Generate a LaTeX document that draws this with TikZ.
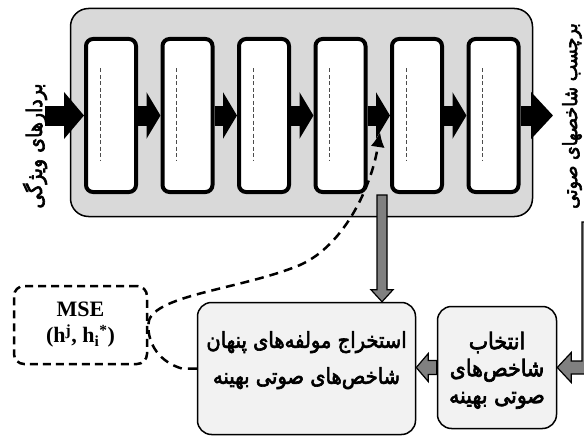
\documentclass[tikz,border=0pt]{standalone}
\usepackage{fontspec}
\setmainfont{Liberation Serif}
\newfontfamily\farsi[Script=Arabic, FakeBold=3]{DejaVu Sans}
\TeXXeTstate=1
\usepackage{tikz}
\usetikzlibrary{arrows.meta,calc,positioning}
\definecolor{panelgray}{RGB}{217,217,217}
\definecolor{boxgray}{RGB}{242,242,242}
\definecolor{arrowgray}{RGB}{128,128,128}
\newcommand{\fa}[1]{\scalebox{1}[1.12]{\beginR #1\endR}}
\tikzstyle{layer} = [draw=black, line width=4pt, fill=white, rounded corners=7pt, minimum width=50pt, minimum height=153pt]
\tikzstyle{blockarrow} = [line width=20pt, -{Triangle[length=14pt,width=46pt]}]
\tikzstyle{grayarrow} = [draw=black, line width=1.2pt, fill=arrowgray, line join=miter]
\tikzstyle{stagebox} = [draw=black, line width=1.5pt, fill=boxgray, rounded corners=14pt, align=center]
\tikzstyle{sidelabel} = [rotate=90, font=\farsi\fontsize{19}{20}\selectfont]

\begin{document}
\begin{tikzpicture}[x=1pt,y=-1pt]
\clip (0,0) rectangle (584,436);
% Panel with the six layers
\node[draw=black, line width=1.5pt, fill=panelgray, rounded corners=18pt, minimum width=462pt, minimum height=208pt] (net) at (301.5,112.5) {};
\foreach \i in {1,...,6} {
    \node[layer] (l\i) at ({111+76.5*(\i-1)},115.5) {};
    \draw[line width=0.6pt, dash pattern=on 4pt off 2.5pt, black!70] ($(l\i.center)+(-11,-47)$) -- ($(l\i.center)+(-11,45)$);
}

% Input and output of the network
\coordinate (in) at (45,115.5);
\coordinate (out) at (553,115.5);
\draw[blockarrow, -{Triangle[length=20pt,width=46pt]}] (in) -- (l1.west);
\foreach \i/\j in {1/2,2/3,3/4,4/5,5/6}
    \draw[blockarrow] (l\i.east) -- (l\j.west);
\draw[blockarrow, -{Triangle[length=22pt,width=46pt]}] (l6.east) -- (out);
\node[sidelabel] (inlabel) at (35,146) {\fa{بردارهای ویژگی}};
\node[sidelabel, font=\farsi\fontsize{17.5}{18}\selectfont] (outlabel) at (572,116) {\fa{برچسب شاخصهای صوتی}};

% Lower boxes
\node[stagebox, minimum width=218pt, minimum height=132pt, text depth=22pt, font=\farsi\fontsize{19.5}{36}\selectfont] (extract) at (306.5,368.5)
    {\fa{استخراج مولفه‌های پنهان}\\\fa{شاخص‌های صوتی بهینه}};
\node[stagebox, minimum width=119pt, minimum height=122pt, text depth=0pt, font=\farsi\fontsize{20.5}{27}\selectfont] (select) at (497,367.5)
    {\fa{انتخاب}\\\fa{شاخص‌های}\\\fa{صوتی بهینه}};
\node[draw=black, line width=2.5pt, dash pattern=on 8pt off 5pt, rounded corners=10pt, minimum width=133pt, minimum height=78pt, align=center, font=\bfseries\fontsize{22}{26}\selectfont] (mse) at (80.5,325)
    {MSE\\(h\textsuperscript{j}, h\textsubscript{i}\textsuperscript{*})};

% Gray arrows
\coordinate (tap) at (382,195);
\coordinate (tapend) at (tap |- extract.north);
\draw[grayarrow] ($(tap)+(-5,0)$) -- ($(tapend)+(-5,-12)$) -- ($(tapend)+(-11,-12)$) -- (tapend)
    -- ($(tapend)+(11,-12)$) -- ($(tapend)+(5,-12)$) -- ($(tap)+(5,0)$) -- cycle;
\coordinate (selend) at (extract.east |- select.west);
\draw[grayarrow] ($(select.west)+(0,-7)$) -- ($(selend)+(12,-7)$) -- ($(selend)+(12,-14)$) -- (selend)
    -- ($(selend)+(12,14)$) -- ($(selend)+(12,7)$) -- ($(select.west)+(0,7)$) -- cycle;
\coordinate (rtap) at (582,222);
\draw[grayarrow] (rtap) -- ($(rtap |- select.east)+(0,-6.5)$) -- ($(select.east)+(14,-6.5)$) -- ($(select.east)+(14,-15)$) -- (select.east)
    -- ($(select.east)+(14,15)$) -- ($(select.east)+(14,6.5)$) -- ($(rtap |- select.east)+(14,6.5)$) -- ($(rtap)+(14,0)$) -- cycle;

% Feedback from the error
\coordinate (fb) at (380,132);
\draw[line width=2.5pt, dash pattern=on 9pt off 6pt, -{Latex[length=15pt,width=14pt]}] (extract.west) -- ++(-15,0)
    .. controls (160,362) and (148,345) .. (mse.east)
    .. controls (148,295) and (240,290) .. (300,265)
    .. controls (345,245) and (372,185) .. (fb);
\end{tikzpicture}
\end{document}
